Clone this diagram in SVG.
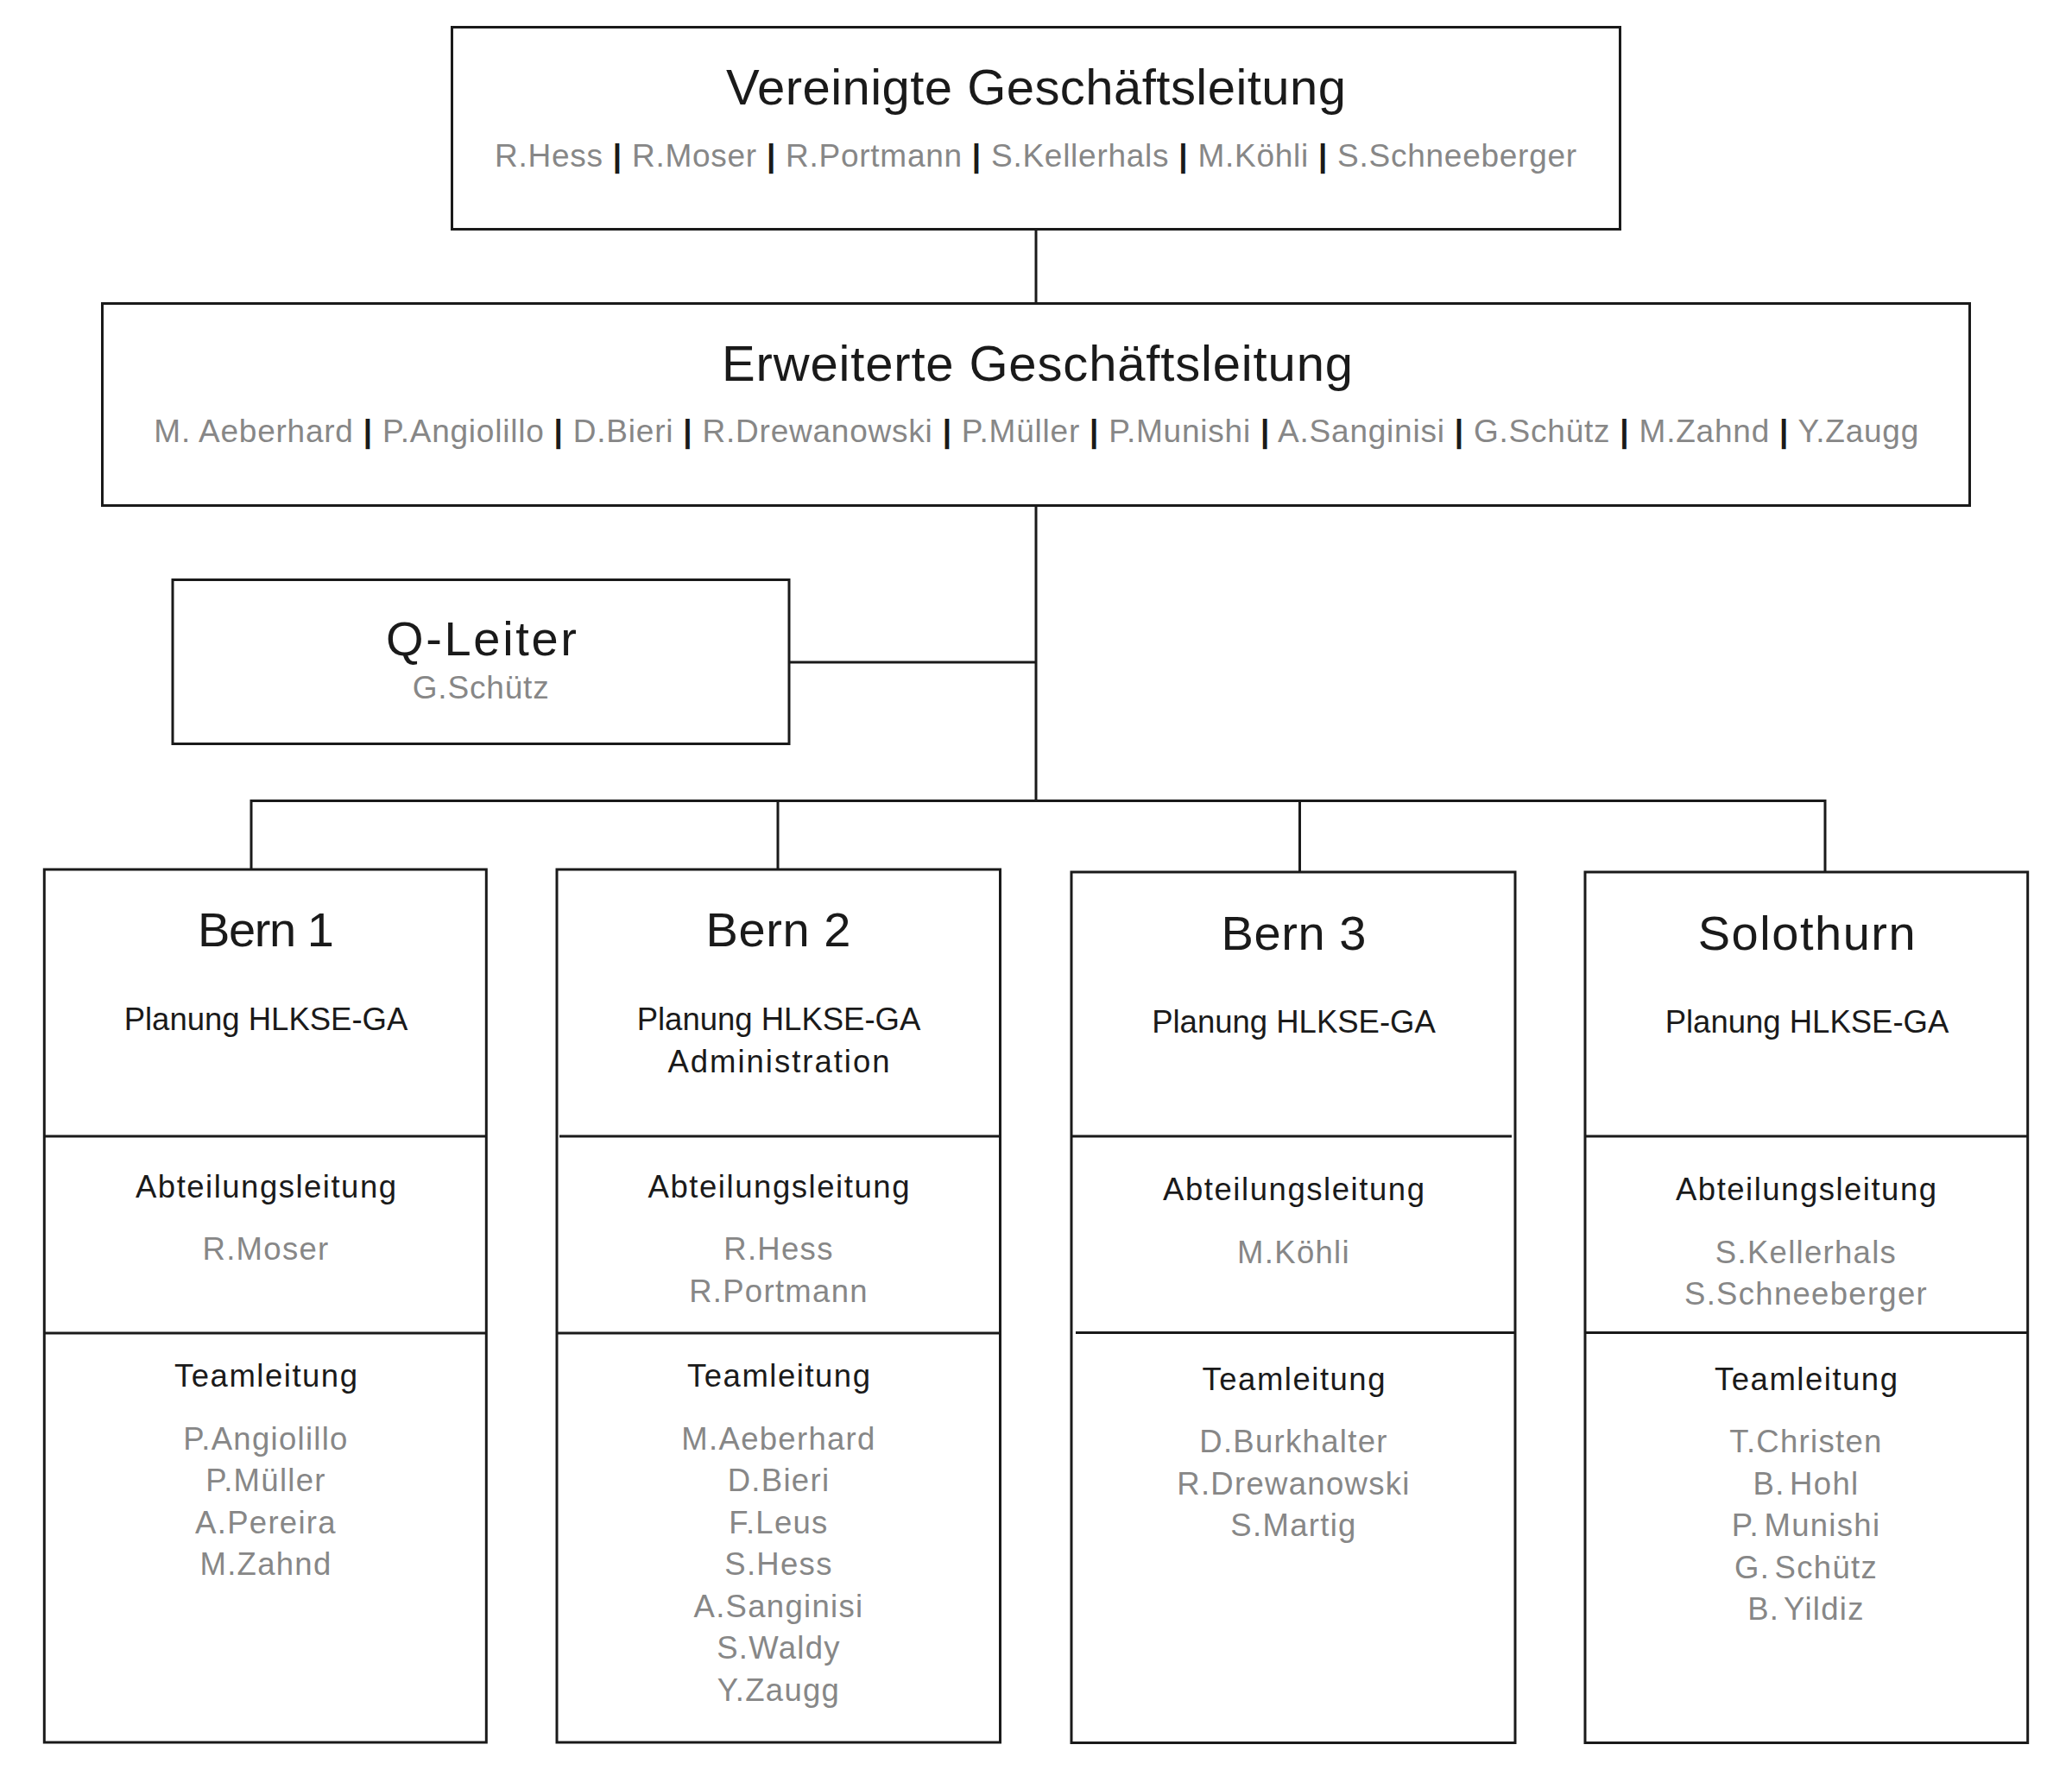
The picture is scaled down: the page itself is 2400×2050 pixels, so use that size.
<svg xmlns="http://www.w3.org/2000/svg" width="2400" height="2050" viewBox="0 0 2400 2050">
<style>
.box{fill:#fff;stroke:#1a1a1a;stroke-width:3}
.ln{fill:none;stroke:#1a1a1a;stroke-width:3}
text{font-family:"Liberation Sans","Noto Sans",Arial,sans-serif;text-anchor:middle}
.h1{font-size:58px;fill:#1a1a1a}
.h2{font-size:56px;fill:#1a1a1a}
.lb{font-size:36.5px;fill:#1a1a1a}
.nm{font-size:36.5px;fill:#878787;letter-spacing:1.3px}
.nl{font-size:37px;fill:#878787}
.sep{fill:#1a1a1a;font-weight:bold}
.ws{word-spacing:-6px}
</style>
<rect width="2400" height="2050" fill="#fff"/>
<g id="connectors">
<line class="ln" x1="1200" y1="265" x2="1200" y2="352"/>
<line class="ln" x1="1200" y1="585" x2="1200" y2="928"/>
<line class="ln" x1="914" y1="767" x2="1200" y2="767"/>
<polyline class="ln" points="291,1007 291,927.5 2114,927.5 2114,1010"/>
<line class="ln" x1="901" y1="927.5" x2="901" y2="1007"/>
<line class="ln" x1="1505.5" y1="927.5" x2="1505.5" y2="1010"/>
</g>
<g id="vereinigte">
<rect class="box" x="523.5" y="31.5" width="1353" height="234"/>
<text class="h1" x="1200" y="121" textLength="718" lengthAdjust="spacing">Vereinigte Geschäftsleitung</text>
<text class="nl" x="1199.6" y="193" textLength="1253" lengthAdjust="spacing">R.Hess <tspan class="sep">|</tspan> R.Moser <tspan class="sep">|</tspan> R.Portmann <tspan class="sep">|</tspan> S.Kellerhals <tspan class="sep">|</tspan> M.Köhli <tspan class="sep">|</tspan> S.Schneeberger</text>
</g>
<g id="erweiterte">
<rect class="box" x="118.5" y="351.5" width="2163" height="234"/>
<text class="h1" x="1201.5" y="441" textLength="731" lengthAdjust="spacing">Erweiterte Geschäftsleitung</text>
<text class="nl" x="1200.3" y="512" textLength="2044" lengthAdjust="spacing">M. Aeberhard <tspan class="sep">|</tspan> P.Angiolillo <tspan class="sep">|</tspan> D.Bieri <tspan class="sep">|</tspan> R.Drewanowski <tspan class="sep">|</tspan> P.Müller <tspan class="sep">|</tspan> P.Munishi <tspan class="sep">|</tspan> A.Sanginisi <tspan class="sep">|</tspan> G.Schütz <tspan class="sep">|</tspan> M.Zahnd <tspan class="sep">|</tspan> Y.Zaugg</text>
</g>
<g id="qleiter">
<rect class="box" x="200" y="671.5" width="714" height="190"/>
<text class="h2" x="557.5" y="759" textLength="221" lengthAdjust="spacing">Q-Leiter</text>
<text class="nl" x="556.7" y="809" textLength="158" lengthAdjust="spacing">G.Schütz</text>
</g>
<g id="bern1">
<rect class="box" x="51.3" y="1007" width="512" height="1011"/>
<line class="ln" x1="51.3" y1="1316" x2="563.3" y2="1316"/>
<line class="ln" x1="51.3" y1="1544" x2="563.3" y2="1544"/>
<text class="h2" x="308" y="1096" textLength="158" lengthAdjust="spacing">Bern 1</text>
<text class="lb" x="308" y="1193">Planung HLKSE-GA</text>
<text class="lb" x="308" y="1386.6" textLength="302" lengthAdjust="spacing">Abteilungsleitung</text>
<text class="nm" x="308" y="1459">R.Moser</text>
<text class="lb" x="308" y="1606" textLength="212" lengthAdjust="spacing">Teamleitung</text>
<text class="nm" x="308" y="1678.7">P.Angiolillo</text>
<text class="nm" x="308" y="1727">P.Müller</text>
<text class="nm" x="308" y="1775.5">A.Pereira</text>
<text class="nm" x="308" y="1823.5">M.Zahnd</text>
</g>
<g id="bern2">
<rect class="box" x="645" y="1007" width="513.5" height="1011"/>
<line class="ln" x1="648" y1="1316" x2="1158.5" y2="1316"/>
<line class="ln" x1="645" y1="1544" x2="1158.5" y2="1544"/>
<text class="h2" x="901.5" y="1096" textLength="168" lengthAdjust="spacing">Bern 2</text>
<text class="lb" x="902" y="1193">Planung HLKSE-GA</text>
<text class="lb" x="902" y="1241.5" textLength="257" lengthAdjust="spacing">Administration</text>
<text class="lb" x="902" y="1386.6" textLength="303" lengthAdjust="spacing">Abteilungsleitung</text>
<text class="nm" x="902" y="1459">R.Hess</text>
<text class="nm" x="902" y="1508">R.Portmann</text>
<text class="lb" x="902" y="1606" textLength="212" lengthAdjust="spacing">Teamleitung</text>
<text class="nm" x="902" y="1678.5">M.Aeberhard</text>
<text class="nm" x="902" y="1727">D.Bieri</text>
<text class="nm" x="902" y="1775.5">F.Leus</text>
<text class="nm" x="902" y="1824">S.Hess</text>
<text class="nm" x="902" y="1872.5">A.Sanginisi</text>
<text class="nm" x="902" y="1921">S.Waldy</text>
<text class="nm" x="902" y="1969.5">Y.Zaugg</text>
</g>
<g id="bern3">
<rect class="box" x="1241" y="1010" width="514" height="1008.5"/>
<line class="ln" x1="1241" y1="1316" x2="1751" y2="1316"/>
<line class="ln" x1="1246" y1="1543.5" x2="1755" y2="1543.5"/>
<text class="h2" x="1498.5" y="1099.5" textLength="168" lengthAdjust="spacing">Bern 3</text>
<text class="lb" x="1498.5" y="1196">Planung HLKSE-GA</text>
<text class="lb" x="1498.5" y="1390" textLength="303" lengthAdjust="spacing">Abteilungsleitung</text>
<text class="nm" x="1498.5" y="1463">M.Köhli</text>
<text class="lb" x="1498.5" y="1609.5" textLength="212" lengthAdjust="spacing">Teamleitung</text>
<text class="nm" x="1498.5" y="1682">D.Burkhalter</text>
<text class="nm" x="1498.5" y="1730.5">R.Drewanowski</text>
<text class="nm" x="1498.5" y="1779">S.Martig</text>
</g>
<g id="solothurn">
<rect class="box" x="1836" y="1010" width="512.7" height="1008.5"/>
<line class="ln" x1="1836" y1="1316" x2="2348.7" y2="1316"/>
<line class="ln" x1="1836" y1="1543.5" x2="2348.7" y2="1543.5"/>
<text class="h2" x="2092.7" y="1099.5" textLength="252" lengthAdjust="spacing">Solothurn</text>
<text class="lb" x="2093" y="1196">Planung HLKSE-GA</text>
<text class="lb" x="2092" y="1390" textLength="302" lengthAdjust="spacing">Abteilungsleitung</text>
<text class="nm" x="2092" y="1463">S.Kellerhals</text>
<text class="nm" x="2092" y="1511">S.Schneeberger</text>
<text class="lb" x="2092" y="1609.5" textLength="212" lengthAdjust="spacing">Teamleitung</text>
<text class="nm" x="2092" y="1682">T.Christen</text>
<text class="nm ws" x="2092" y="1730.5">B. Hohl</text>
<text class="nm ws" x="2092" y="1779">P. Munishi</text>
<text class="nm ws" x="2092" y="1827.5">G. Schütz</text>
<text class="nm ws" x="2092" y="1876">B. Yildiz</text>
</g>
</svg>
